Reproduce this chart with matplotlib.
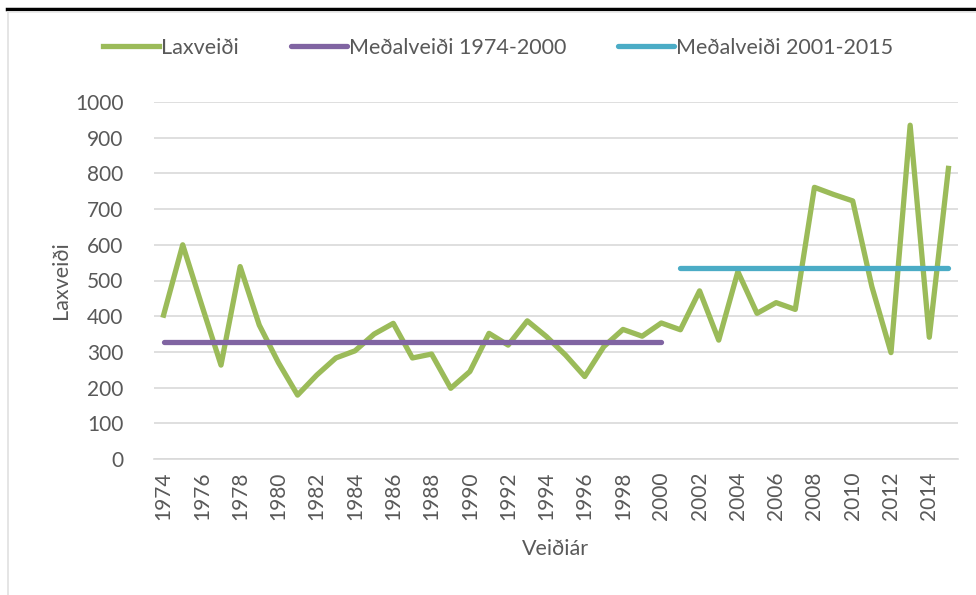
import numpy as np
import matplotlib
matplotlib.use("Agg")
import matplotlib.pyplot as plt
from matplotlib.lines import Line2D

# data
years = list(range(1974, 2016))
laxveidi = [403, 600, 430, 263, 539, 375, 270, 179, 235, 283,
            303, 350, 380, 283, 294, 198, 245, 352, 319, 387,
            343, 291, 231, 315, 363, 344, 381, 362, 471, 333,
            525, 408, 438, 419, 761, 741, 723, 483, 298, 935,
            341, 814]
avg_1974_2000 = 327
avg_2001_2015 = 534

GREEN = "#9BBB59"
PURPLE = "#8064A2"
CYAN = "#4BACC6"
GRID = "#D9D9D9"
TEXT = "#595959"

plt.rcParams['font.family'] = ['Lato', 'DejaVu Sans']

fig = plt.figure(figsize=(9.76, 5.95), dpi=100)
ax = fig.add_axes([154 / 976, 136 / 595, 804 / 976, 357 / 595])

x = np.arange(len(years))
i1 = years.index(1974)
i2 = years.index(2000)
i3 = years.index(2001)
i4 = years.index(2015)

ax.plot(x, laxveidi, color=GREEN, lw=3.8, label="Laxveiði", zorder=3)
ax.plot([x[i1], x[i2]], [avg_1974_2000] * 2, color=PURPLE, lw=3.8,
        solid_capstyle='round', label="Meðalveiði 1974-2000", zorder=4)
ax.plot([x[i3], x[i4]], [avg_2001_2015] * 2, color=CYAN, lw=3.8,
        solid_capstyle='round', label="Meðalveiði 2001-2015", zorder=4)

ax.set_xlim(-0.5, len(years) - 0.5)
ax.set_ylim(0, 1000)
ax.set_yticks(np.arange(0, 1001, 100))
ax.set_xticks(x[::2])
ax.set_xticklabels([str(y) for y in years[::2]], rotation=90)
ax.yaxis.grid(True, color=GRID, lw=1.2)
ax.set_axisbelow(True)
for s in ["top", "right", "left"]:
    ax.spines[s].set_visible(False)
ax.spines["bottom"].set_color(GRID)
ax.spines["bottom"].set_linewidth(1.2)
ax.tick_params(axis="both", length=0, colors=TEXT, labelsize=15)
ax.tick_params(axis="y", pad=22)
ax.tick_params(axis="x", pad=9)

ax.set_xlabel("Veiðiár", color=TEXT, fontsize=15.5, labelpad=14)
ax.set_ylabel("Laxveiði", color=TEXT, fontsize=15.5, labelpad=3)

fig.legend(loc="center", bbox_to_anchor=(498 / 976, 1 - 48 / 595), ncol=3,
           frameon=False, fontsize=15.5, handlelength=2.6, handletextpad=0.1,
           columnspacing=2.4, labelcolor=TEXT)

# chart frame
fig.add_artist(Line2D([7 / 976, 1], [1 - 9 / 595] * 2, color="black", lw=2.5))
fig.add_artist(Line2D([8 / 976, 1], [1 - 12 / 595] * 2, color="#E6E6E6", lw=1.2))
fig.add_artist(Line2D([8 / 976] * 2, [0, 1 - 12 / 595], color="#E0E0E0", lw=1.2))

fig.savefig("out.png", dpi=100)
